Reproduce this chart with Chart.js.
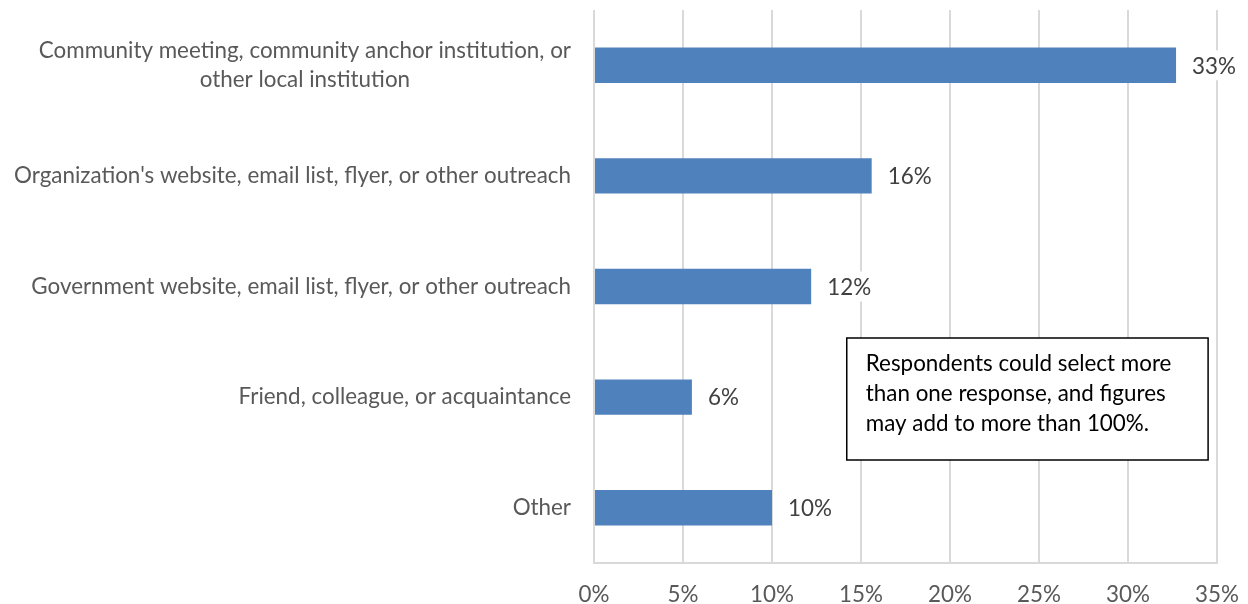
<!DOCTYPE html>
<html>
<head>
<meta charset="utf-8">
<script src="https://cdn.jsdelivr.net/npm/chart.js@4"></script>
<style>
  html, body { margin: 0; padding: 0; background: #fff; }
  #wrap { width: 1248px; height: 604px; position: relative; }
</style>
</head>
<body>
<div id="wrap"><canvas id="sourceChart"></canvas></div>
<script>
const categories = [
    ['Community meeting, community anchor institution, or', 'other local institution'],
    ["Organization's website, email list, flyer, or other outreach"],
    ['Government website, email list, flyer, or other outreach'],
    ['Friend, colleague, or acquaintance'],
    ['Other']
];
const shares = [32.7, 15.6, 12.2, 5.5, 10.0];
const xTicks = [0, 5, 10, 15, 20, 25, 30, 35];
const noteLines = [
    'Respondents could select more',
    'than one response, and figures',
    'may add to more than 100%.'
];

const FONT = 'Lato, "Open Sans", sans-serif';
const LABEL_SIZE = 22.4;

// category labels: lines centred on each other, block right-aligned to the axis
const categoryLabels = {
    id: 'categoryLabels',
    afterDraw(chart) {
        const ctx = chart.ctx;
        const y = chart.scales.y;
        const right = chart.chartArea.left - 23;
        const lineH = 29;
        ctx.save();
        ctx.font = LABEL_SIZE + 'px ' + FONT;
        ctx.fillStyle = '#595959';
        ctx.textBaseline = 'middle';
        ctx.textAlign = 'center';
        categories.forEach((lines, i) => {
            const w = Math.max(...lines.map(l => ctx.measureText(l).width));
            const cx = right - w / 2;
            const cy = y.getPixelForValue(i);
            const top = cy - (lines.length - 1) * lineH / 2;
            lines.forEach((l, k) => ctx.fillText(l, cx, top + k * lineH));
        });
        ctx.restore();
    }
};

// value labels at the end of each bar
const valueLabels = {
    id: 'valueLabels',
    afterDatasetsDraw(chart) {
        const ctx = chart.ctx;
        const meta = chart.getDatasetMeta(0);
        ctx.save();
        ctx.font = LABEL_SIZE + 'px ' + FONT;
        ctx.textBaseline = 'middle';
        ctx.textAlign = 'left';
        meta.data.forEach((bar, i) => {
            const txt = Math.round(shares[i]) + '%';
            const w = ctx.measureText(txt).width;
            const x = bar.x + 16;
            ctx.fillStyle = '#ffffff';
            ctx.fillRect(x - 4, bar.y - 15, w + 8, 30);
            ctx.fillStyle = '#404040';
            ctx.fillText(txt, x, bar.y + 1);
        });
        ctx.restore();
    }
};

// boxed note inside the plot
const noteBox = {
    id: 'noteBox',
    afterDraw(chart) {
        const ctx = chart.ctx;
        const x = chart.scales.x;
        const left = x.getPixelForValue(14.2);
        const right = x.getPixelForValue(34.5);
        const top = 338, bottom = 460;
        ctx.save();
        ctx.fillStyle = '#ffffff';
        ctx.fillRect(left, top, right - left, bottom - top);
        ctx.strokeStyle = '#000000';
        ctx.lineWidth = 1.5;
        ctx.strokeRect(left, top, right - left, bottom - top);
        ctx.font = LABEL_SIZE + 'px ' + FONT;
        ctx.fillStyle = '#000000';
        ctx.textBaseline = 'middle';
        ctx.textAlign = 'left';
        noteLines.forEach((l, k) => ctx.fillText(l, left + 19, top + 26 + k * 30));
        ctx.restore();
    }
};

new Chart(document.getElementById('sourceChart').getContext('2d'), {
    type: 'bar',
    data: {
        labels: categories.map(c => c.join(' ')),
        datasets: [{
            data: shares,
            backgroundColor: '#4f81bd',
            borderWidth: 0,
            categoryPercentage: 1,
            barPercentage: 0.32
        }]
    },
    options: {
        indexAxis: 'y',
        responsive: true,
        maintainAspectRatio: false,
        animation: false,
        layout: { padding: { top: 10, right: 31, bottom: 0, left: 0 } },
        plugins: {
            legend: { display: false },
            tooltip: { enabled: false }
        },
        scales: {
            x: {
                min: 0,
                max: 35,
                afterBuildTicks: scale => { scale.ticks = xTicks.map(v => ({ value: v })); },
                afterFit: scale => {
                    scale.height = 41;
                    scale.paddingLeft = 0;
                    scale.paddingRight = 0;
                },
                grid: { color: '#d9d9d9', lineWidth: 2, drawTicks: false },
                border: { display: true, color: '#d9d9d9', width: 2 },
                ticks: {
                    padding: 21,
                    maxRotation: 0,
                    color: '#595959',
                    font: { family: FONT, size: LABEL_SIZE, lineHeight: 1 },
                    callback: v => v + '%'
                }
            },
            y: {
                grid: { display: false },
                border: { display: false },
                ticks: { display: false },
                afterFit: scale => { scale.width = 594; }
            }
        }
    },
    plugins: [categoryLabels, valueLabels, noteBox]
});
</script>
</body>
</html>
